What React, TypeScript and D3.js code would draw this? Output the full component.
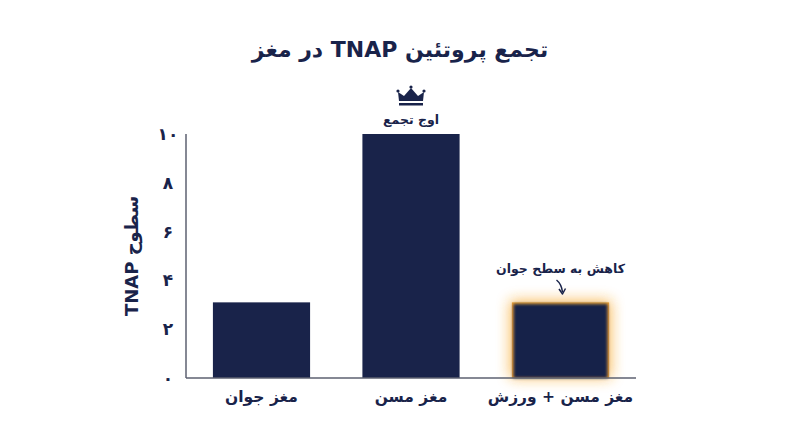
import React from "react";
import * as d3 from "d3";

const categories = ["مغز جوان", "مغز مسن", "مغز مسن + ورزش"];
const values = [3.1, 10, 3.1];
const yTicks = [0, 2, 4, 6, 8, 10];
const title = "تجمع پروتئین TNAP در مغز";
const yLabel = "سطوح TNAP";
const peakLabel = "اوج تجمع";
const dropLabel = "کاهش به سطح جوان";

const toFa = (n: number) => String(n).replace(/\d/g, (d) => "۰۱۲۳۴۵۶۷۸۹"[+d]);

const W = 800, H = 447;
const NAVY = "#19234a";
const FONT = "'DejaVu Sans', 'Noto Sans', sans-serif";

export default function App() {
  const x = d3.scaleBand<string>().domain(categories).range([186, 636]).paddingInner(0.35).paddingOuter(0.18);
  const y = d3.scaleLinear().domain([0, 10]).range([378, 134]);
  const bw = x.bandwidth();
  const peakX = x(categories[1])! + bw / 2;
  const dropX = x(categories[2])! + bw / 2;
  return (
    <svg width={W} height={H} style={{ position: "absolute", left: 0, top: 0, background: "#fff" }} fontFamily={FONT}>
      <defs>
        <filter id="glow" x="-50%" y="-50%" width="200%" height="200%">
          <feGaussianBlur stdDeviation="7" />
        </filter>
        <filter id="soft" x="-10%" y="-10%" width="120%" height="120%">
          <feGaussianBlur stdDeviation="1.5" />
        </filter>
      </defs>
      <rect width={W} height={H} fill="#fff" />
      <text x={400} y={57} textAnchor="middle" direction="rtl" fontSize={22} fontWeight="bold" fill={NAVY}>{title}</text>
      {yTicks.map((t) => (
        <text key={t} x={168} y={y(t)} dy="0.35em" textAnchor="middle" fontSize={17} fontWeight="bold" fill={NAVY}>{toFa(t)}</text>
      ))}
      <text transform={`translate(132,${(y(0) + y(10)) / 2}) rotate(-90)`} textAnchor="middle" direction="rtl" fontSize={18} fontWeight="bold" fill={NAVY} dy="0.35em">{yLabel}</text>
      {categories.map((c, i) => {
        const bx = x(c)!;
        const by = y(values[i]);
        const bh = y(0) - by;
        if (i === 2) {
          return (
            <g key={c}>
              <rect x={bx - 2} y={by - 2} width={bw + 4} height={bh + 2} fill="#f7a21b" opacity={0.7} filter="url(#glow)" />
              <rect x={bx} y={by} width={bw} height={bh} fill="#f3a533" />
              <rect x={bx + 1.5} y={by + 1.5} width={bw - 3} height={bh - 1.5} fill={NAVY} filter="url(#soft)" />
            </g>
          );
        }
        return <rect key={c} x={bx} y={by} width={bw} height={y(0) - by} fill={NAVY} />;
      })}
      <line x1={186} x2={186} y1={y(10)} y2={y(0)} stroke="#5d6070" strokeWidth={1.5} />
      <line x1={186} x2={636} y1={y(0)} y2={y(0)} stroke="#5d6070" strokeWidth={1.5} />
      {categories.map((c) => (
        <text key={c} x={x(c)! + bw / 2} y={402} textAnchor="middle" direction="rtl" fontSize={15.5} fontWeight="bold" fill={NAVY}>{c}</text>
      ))}
      <g transform={`translate(${peakX},0)`} fill={NAVY}>
        <path d="M-12,101 L-13,92 L-7,96 L0,88 L7,96 L13,92 L12,101 Z" />
        <circle cx={-13} cy={91} r={1.6} />
        <circle cx={0} cy={87} r={1.6} />
        <circle cx={13} cy={91} r={1.6} />
        <rect x={-12} y={103} width={24} height={2.5} />
      </g>
      <text x={peakX} y={124} textAnchor="middle" direction="rtl" fontSize={12.5} fontWeight="bold" fill={NAVY}>{peakLabel}</text>
      <text x={dropX} y={273} textAnchor="middle" direction="rtl" fontSize={12.5} fontWeight="bold" fill={NAVY}>{dropLabel}</text>
      <path d={`M${dropX - 4},280 Q${dropX + 1},284 ${dropX + 2},292`} fill="none" stroke={NAVY} strokeWidth={1.5} />
      <path d={`M${dropX - 1.5},289 L${dropX + 2},294 L${dropX + 5},288.5`} fill="none" stroke={NAVY} strokeWidth={1.5} strokeLinejoin="round" />
    </svg>
  );
}
